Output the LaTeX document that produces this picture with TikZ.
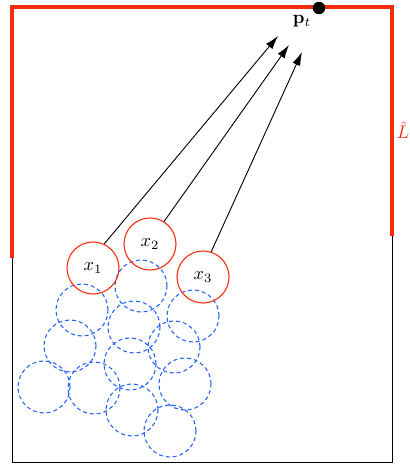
\documentclass[tikz,border=0pt]{standalone}
\usetikzlibrary{arrows.meta}
\definecolor{hred}{RGB}{245,45,15}
\definecolor{hblue}{RGB}{40,100,250}
\begin{document}
\begin{tikzpicture}[x=0.01923cm,y=-0.01923cm,
  redc/.style={circle,draw=hred,line width=0.6pt,minimum size=1cm,inner sep=0pt},
  bluec/.style={circle,draw=hblue,dashed,dash pattern=on 2.2pt off 1.6pt,line width=0.6pt,minimum size=1cm,inner sep=0pt},
  arr/.style={-{Latex[length=2.6mm,width=1.6mm]},line width=0.5pt},
  wall/.style={hred,line width=1.7pt}]
\useasboundingbox (0,0) rectangle (409,466);
\coordinate (bl) at (12,462);
\coordinate (br) at (392,462);
\coordinate (tl) at (12,7);
\coordinate (tr) at (392,7);
\coordinate (wl) at (12,258);
\coordinate (wr) at (392,236);
\draw[line width=0.5pt] (tl) -- (bl) -- (br) -- (tr);
\draw[wall] (wl) -- (tl) -- (tr) -- (wr);
\node[circle,fill=black,minimum size=0.24cm,inner sep=0pt] (pt) at (319,8) {};
\node (ptl) at (302,21) {$\mathbf{p}_t$};
\node[text=hred,inner sep=0pt,anchor=west] (lhat) at (396.5,130) {$\hat{L}$};
% dashed circles
\foreach \n/\x/\y in {a/82/310,b/141/286,c/70/346,d/134/327,e/193/316,f/174/347,g/44/387,h/94/388,i/130/364,j/185/384,k/132/410,l/170/431}
  \node[bluec] (\n) at (\x,\y) {};
\node[redc] (x1) at (93,268) {$x_1$};
\node[redc] (x2) at (150,244) {$x_2$};
\node[redc] (x3) at (203,277) {$x_3$};
\coordinate (t1) at (278,36);
\coordinate (t2) at (289,45);
\coordinate (t3) at (302,52);
\draw[arr] (x1.65) -- (t1);
\draw[arr] (x2.58) -- (t2);
\draw[arr] (x3.72) -- (t3);
\end{tikzpicture}
\end{document}
